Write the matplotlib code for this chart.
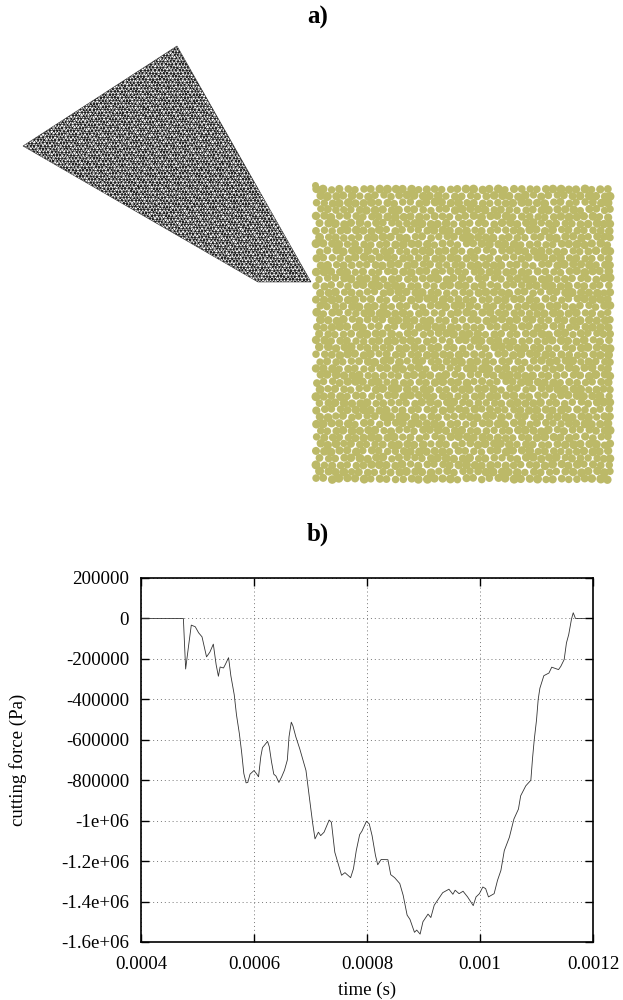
import numpy as np
import matplotlib
matplotlib.use("Agg")
import matplotlib.pyplot as plt
from matplotlib.patches import Polygon
from matplotlib.tri import Triangulation
from matplotlib.ticker import FixedLocator, FixedFormatter

plt.rcParams['font.family'] = ['Liberation Serif', 'DejaVu Serif']

# panel b) curve
time_s = np.array([400, 475, 479, 484, 489, 496, 502, 508, 516, 522, 528, 533, 537, 540, 546, 549, 555,
                   559, 565, 569, 574, 578, 582, 586, 589, 593, 600, 605, 608, 612, 615, 624, 627, 631,
                   635, 639, 644, 649, 654, 659, 662, 666, 669, 674, 681, 692, 698, 704, 708, 714, 718,
                   724, 733, 737, 743, 749, 755, 761, 771, 776, 781, 787, 791, 799, 804, 809, 815, 819,
                   825, 837, 842, 849, 858, 864, 871, 876, 884, 888, 894, 899, 908, 913, 919, 934, 945,
                   952, 956, 963, 970, 978, 988, 993, 999, 1005, 1010, 1015, 1025, 1031, 1037, 1043,
                   1052, 1060, 1068, 1072, 1081, 1090, 1093, 1096, 1100, 1103, 1106, 1113, 1122, 1127,
                   1139, 1143, 1149, 1153, 1157, 1162, 1165, 1169, 1186]) * 1e-6
force_pa = np.array([0, 0, -250000, -140000, -33000, -41000, -71000, -91000, -190000, -166000, -127000,
                     -229000, -286000, -240000, -245000, -229000, -194000, -283000, -377000, -477000,
                     -568000, -659000, -767000, -813000, -811000, -770000, -752000, -770000, -783000,
                     -684000, -639000, -608000, -634000, -709000, -770000, -780000, -811000, -783000,
                     -750000, -700000, -585000, -513000, -532000, -585000, -645000, -752000, -885000,
                     -1016000, -1090000, -1057000, -1074000, -1057000, -997000, -1008000, -1156000,
                     -1213000, -1270000, -1257000, -1282000, -1238000, -1148000, -1069000, -1052000,
                     -1003000, -1016000, -1074000, -1172000, -1218000, -1192000, -1193000, -1267000,
                     -1282000, -1311000, -1369000, -1467000, -1488000, -1552000, -1541000, -1561000,
                     -1500000, -1462000, -1479000, -1418000, -1356000, -1339000, -1364000, -1344000,
                     -1361000, -1349000, -1377000, -1420000, -1377000, -1361000, -1328000, -1336000,
                     -1377000, -1361000, -1295000, -1246000, -1148000, -1082000, -992000, -943000,
                     -877000, -828000, -800000, -691000, -600000, -503000, -400000, -345000, -283000,
                     -270000, -241000, -253000, -237000, -203000, -121000, -80000, -2000, 28000, 0, 0])

x_ticks = [0.0004, 0.0006, 0.0008, 0.001, 0.0012]
x_labels = ['0.0004', '0.0006', '0.0008', '0.001', '0.0012']
y_ticks = [200000, 0, -200000, -400000, -600000, -800000, -1000000, -1200000, -1400000, -1600000]
y_labels = ['200000', '0', '-200000', '-400000', '-600000', '-800000', '-1e+06', '-1.2e+06', '-1.4e+06', '-1.6e+06']

# panel a) outlines in picture pixels
tool_x = [177, 23, 258, 311]
tool_y = [46, 146, 282, 282]
box_x = [316, 610]
box_y = [189, 484]
# fixed hand-written offsets that give the particle packing its irregular look
jit_a = [0.9, -1.3, 0.4, 1.6, -0.7, -1.8, 1.1, 0.2, -1.0, 1.7, -0.3, 0.7, -1.5, 1.3, -0.1, -0.9, 1.9]
jit_b = [-0.6, 1.4, -1.7, 0.3, 1.0, -1.1, 1.8, -0.4, 0.6, -1.4, 1.2, 0.1, -1.9, 0.8, -0.2, 1.5, -0.8, 0.5, -1.2]
diam = [8.3, 7.6, 8.9, 8.0, 7.4, 8.6, 8.2, 9.0, 7.8, 8.4, 7.5]

fig = plt.figure(figsize=(6.23, 10), dpi=100)
bg = fig.add_axes([0, 0, 1, 1])
bg.set_xlim(0, 623)
bg.set_ylim(1000, 0)
bg.axis('off')

# cutting tool mesh
sp = 3.5
xs, ys = [], []
for j in range(int(250 / (sp * 0.866))):
    for i in range(int(300 / sp)):
        a, b = jit_a[(i + 3 * j) % len(jit_a)], jit_b[(2 * i + j) % len(jit_b)]
        xs.append(15 + i * sp + (j % 2) * sp / 2 + 0.3 * a)
        ys.append(40 + j * sp * 0.866 + 0.3 * b)
tri = Triangulation(xs, ys)
clip = Polygon(np.column_stack([tool_x, tool_y]), closed=True, transform=bg.transData)
bg.add_patch(Polygon(np.column_stack([tool_x, tool_y]), closed=True, facecolor='#ffffff',
                     edgecolor='#333333', lw=0.4))
lines = bg.triplot(tri, color='#222222', lw=0.5)
for ln in lines:
    ln.set_clip_path(clip)

# particles
px, py, ps = [], [], []
step_x, step_y = 7.9, 6.9
for j in range(int((box_y[1] - box_y[0]) / step_y) + 1):
    for i in range(int((box_x[1] - box_x[0]) / step_x) + 1):
        x = box_x[0] + i * step_x + (j % 2) * step_x / 2 + 0.5 * jit_a[(i * 5 + j * 3) % len(jit_a)]
        y = box_y[0] + j * step_y + 0.5 * jit_b[(i * 3 + j * 7) % len(jit_b)]
        px.append(min(max(x, box_x[0]), box_x[1]))
        py.append(min(max(y, box_y[0]), box_y[1]))
        ps.append((diam[(i * 2 + j * 5) % len(diam)] * 0.72) ** 2)
bg.scatter(px, py, s=ps, c='#bcb968', linewidths=0)
bg.scatter([315], [185], s=(7 * 0.72) ** 2, c='#bcb968', linewidths=0)

# titles
fig.text(318 / 623, 1 - 17 / 1000, 'a)', ha='center', va='center', fontsize=18, fontweight='bold')
fig.text(318 / 623, 1 - 534 / 1000, 'b)', ha='center', va='center', fontsize=18, fontweight='bold')

# force curve
ax = fig.add_axes([141 / 623, 58 / 1000, 452 / 623, 364 / 1000])
ax.plot(time_s, force_pa, color='#333333', lw=0.6)
ax.set_xlim(0.0004, 0.0012)
ax.set_ylim(-1600000, 200000)
ax.xaxis.set_major_locator(FixedLocator(x_ticks))
ax.xaxis.set_major_formatter(FixedFormatter(x_labels))
ax.yaxis.set_major_locator(FixedLocator(y_ticks))
ax.yaxis.set_major_formatter(FixedFormatter(y_labels))
ax.tick_params(direction='in', length=5.5, width=1, top=True, right=True, labelsize=13.6)
ax.tick_params(axis='y', pad=8.5)
ax.tick_params(axis='x', pad=10)
ax.grid(True, color='#777777', lw=0.7, linestyle=(0, (1, 3)))
ax.set_axisbelow(True)
for s in ax.spines.values():
    s.set_linewidth(1.2)
ax.set_xlabel('time (s)', fontsize=13.6)
ax.set_ylabel('cutting force (Pa)', fontsize=13.6)
ax.xaxis.set_label_coords(0.5, -40 / 364)
ax.yaxis.set_label_coords(-114 / 452, 0.5)

fig.savefig('out.png', dpi=100)
